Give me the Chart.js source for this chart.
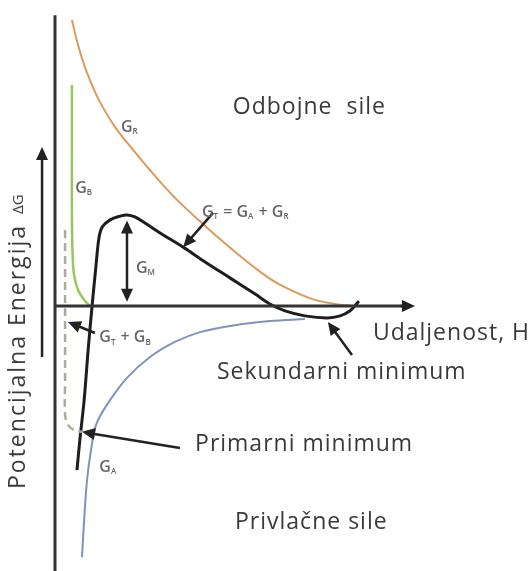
<!DOCTYPE html>
<html>
<head>
<meta charset="utf-8">
<script src="https://cdn.jsdelivr.net/npm/chart.js@4"></script>
<style>
  body { margin: 0; background: #fff; }
  #wrap { width: 531px; height: 571px; position: relative; }
</style>
</head>
<body>
<div id="wrap"><canvas id="chartId"></canvas></div>
<script>
// curves, x = distance H, y = potential energy (arbitrary units)
const repulsion = [[4.7, 98.6], [6.4, 90.0], [8.3, 82.4], [10.3, 76.2], [12.5, 70.3], [16.7, 61.7], [21.7, 53.8], [27.8, 44.8], [33.9, 36.6], [41.7, 27.6], [49.4, 19.3], [55.6, 13.1], [61.1, 8.3], [66.7, 4.8], [72.2, 2.1], [77.8, 0.7], [82.5, 0]];
const born = [[4.7, 76.2], [4.7, 53.8], [4.7, 29.7], [4.9, 17.6], [5.3, 10.7], [6.4, 5.5], [8.1, 2.1], [9.7, 0]];
const bornTotal = [[2.8, 26.2], [2.8, 2.1], [2.8, -25.5], [2.8, -37.6], [3.6, -41.0], [5.3, -42.8], [7.5, -43.4]];
const total = [[6.1, -56.6], [6.9, -46.2], [8.1, -32.4], [9.2, -15.2], [10.3, 0], [11.4, 14.1], [12.2, 23.4], [13.1, 27.2], [15.3, 29.7], [18.1, 31.0], [20.0, 31.4], [22.2, 30.7], [25.0, 28.6], [29.2, 25.2], [35.6, 20.3], [41.7, 15.2], [48.6, 9.7], [55.6, 4.1], [59.7, 0.7], [63.9, -1.7], [69.4, -3.4], [75.6, -4.1], [79.2, -3.4], [81.9, -1.7], [83.3, 0], [84.4, 1.7]];
const attraction = [[7.5, -86.6], [8.1, -73.8], [8.9, -60.0], [10.0, -49.7], [11.4, -41.0], [14.4, -34.1], [20.0, -24.8], [26.4, -17.6], [33.3, -12.4], [40.3, -9.0], [50.0, -6.6], [59.7, -5.2], [69.4, -4.5]];

const yAxisLine = [[0, 100.3], [0, -92]];
const xAxisLine = [[0, 0], [97, 0]];

// big texts: [text, x, y]
const texts = [
    ["Odbojne  sile", 49.4, 68.6],
    ["Udaljenost, H", 88.3, -9.3],
    ["Sekundarni minimum", 45.0, -22.8],
    ["Primarni minimum", 38.9, -47.9],
    ["Privlačne sile", 50.0, -74.5]
];
// curve labels: [parts, x, y]  parts = list of [text, isSub]
const curveLabels = [
    [[["G", 0], ["R", 1]], 18.3, 61.7],
    [[["G", 0], ["B", 1]], 5.6, 40.7],
    [[["G", 0], ["T", 1], [" = G", 0], ["A", 1], [" + G", 0], ["R", 1]], 40.8, 32.4],
    [[["G", 0], ["M", 1]], 22.5, 13.1],
    [[["G", 0], ["T", 1], [" + G", 0], ["B", 1]], 12.3, -11.0],
    [[["G", 0], ["A", 1]], 12.3, -55.5]
];
// arrows: [x1, y1, x2, y2, bothEnds]
const arrows = [
    [-3.6, -17.6, -3.6, 54.8, false],
    [96, 0, 100, 0, false],
    [20.0, 1.5, 20.0, 29.5, true],
    [43.9, 32.1, 35.6, 20.3, false],
    [82.5, -16.9, 75.8, -5.5, false],
    [34.7, -49.0, 7.5, -43.4, false],
    [11.1, -9.3, 3.6, -5.5, false]
];

function toPts(arr) {
    return arr.map(p => ({ x: p[0], y: p[1] }));
}

function head(ctx, x1, y1, x2, y2) {
    const a = Math.atan2(y2 - y1, x2 - x1);
    const len = 13, w = 6;
    ctx.beginPath();
    ctx.moveTo(x2, y2);
    ctx.lineTo(x2 - len * Math.cos(a) + w * Math.sin(a), y2 - len * Math.sin(a) - w * Math.cos(a));
    ctx.lineTo(x2 - len * Math.cos(a) - w * Math.sin(a), y2 - len * Math.sin(a) + w * Math.cos(a));
    ctx.closePath();
    ctx.fill();
}

const decorPlugin = {
    id: 'decor',
    afterDatasetsDraw(chart) {
        const ctx = chart.ctx;
        const xs = chart.scales.x, ys = chart.scales.y;
        ctx.save();
        // arrows
        ctx.strokeStyle = '#222';
        ctx.fillStyle = '#222';
        ctx.lineWidth = 2.5;
        arrows.forEach(a => {
            const x1 = xs.getPixelForValue(a[0]), y1 = ys.getPixelForValue(a[1]);
            const x2 = xs.getPixelForValue(a[2]), y2 = ys.getPixelForValue(a[3]);
            const ang = Math.atan2(y2 - y1, x2 - x1);
            ctx.beginPath();
            ctx.moveTo(a[4] ? x1 + 8 * Math.cos(ang) : x1, a[4] ? y1 + 8 * Math.sin(ang) : y1);
            ctx.lineTo(x2 - 8 * Math.cos(ang), y2 - 8 * Math.sin(ang));
            ctx.stroke();
            head(ctx, x1, y1, x2, y2);
            if (a[4]) head(ctx, x2, y2, x1, y1);
        });
        // big texts
        ctx.fillStyle = '#3a3a3a';
        ctx.textBaseline = 'middle';
        ctx.textAlign = 'left';
        ctx.letterSpacing = '1px';
        ctx.font = '23px "Open Sans"';
        texts.forEach(t => {
            ctx.fillText(t[0], xs.getPixelForValue(t[1]), ys.getPixelForValue(t[2]));
        });
        // curve labels with subscripts
        ctx.letterSpacing = '0px';
        ctx.fillStyle = '#666';
        curveLabels.forEach(l => {
            let px = xs.getPixelForValue(l[1]);
            const py = ys.getPixelForValue(l[2]);
            l[0].forEach(part => {
                ctx.font = part[1] ? '600 8px "Open Sans"' : '600 16px "Open Sans"';
                ctx.fillText(part[0], px, part[1] ? py + 5 : py);
                px += ctx.measureText(part[0]).width + (part[1] ? 1 : 0);
            });
        });
        // y title
        ctx.save();
        ctx.translate(18, 489);
        ctx.rotate(-Math.PI / 2);
        ctx.fillStyle = '#3a3a3a';
        ctx.letterSpacing = '2px';
        ctx.font = '23px "Open Sans"';
        ctx.fillText('Potencijalna Energija', 0, 0);
        ctx.letterSpacing = '0px';
        ctx.font = '15px "Open Sans"';
        ctx.fillText('ΔG', 275, 1);
        ctx.restore();
        ctx.restore();
    }
};

function line(data, color, width, dash) {
    return {
        data: toPts(data),
        showLine: true,
        borderColor: color,
        borderWidth: width,
        borderDash: dash || [],
        pointRadius: 0,
        tension: 0.35,
        fill: false,
        clip: false
    };
}

var chrt = document.getElementById("chartId").getContext("2d");
var chartId = new Chart(chrt, {
    type: 'scatter',
    data: {
        datasets: [
            line(yAxisLine, '#333', 3),
            line(xAxisLine, '#333', 3),
            line(repulsion, '#dc9a5a', 2),
            line(born, '#96c85a', 2.5),
            line(bornTotal, '#a8ae98', 2.5, [8, 5]),
            line(attraction, '#7e93bf', 2),
            line(total, '#1e1e1e', 3)
        ]
    },
    options: {
        responsive: true,
        maintainAspectRatio: false,
        animation: false,
        layout: { padding: { left: 55, right: 116, top: 16, bottom: 4 } },
        plugins: { legend: { display: false }, tooltip: { enabled: false } },
        scales: {
            x: { type: 'linear', min: 0, max: 100, display: false },
            y: { type: 'linear', min: -90, max: 100, display: false }
        }
    },
    plugins: [decorPlugin]
});
</script>
</body>
</html>
